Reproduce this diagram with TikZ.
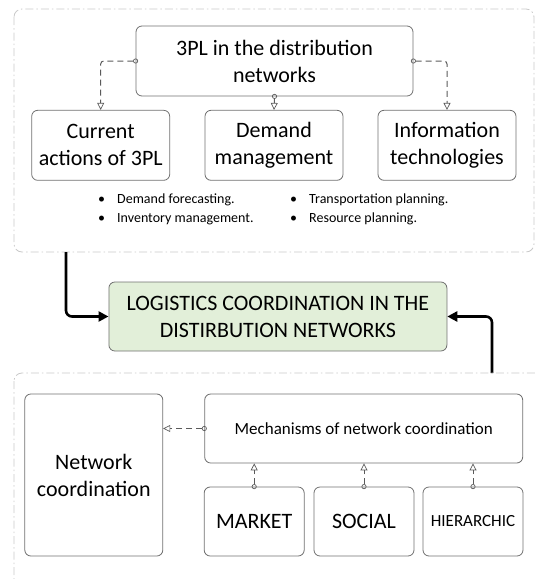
\documentclass[tikz,border=0pt]{standalone}
\usepackage{fontspec}
\setmainfont{Carlito}
\usetikzlibrary{arrows.meta}

\definecolor{boxgray}{RGB}{112,112,112}
\definecolor{linkgray}{RGB}{90,90,90}
\definecolor{framegray}{RGB}{200,200,200}
\definecolor{palegreen}{RGB}{226,239,217}

\newcommand{\blt}{\makebox[19pt][l]{\textbullet}}

\begin{document}
\begin{tikzpicture}[
    x=1pt, y=-1pt,
    box/.style={draw=boxgray, line width=0.8pt, rounded corners=6pt, align=center, inner sep=0pt},
    big/.style={font=\fontsize{22}{27}\selectfont},
    mid/.style={font=\fontsize{17}{21}\selectfont},
    small/.style={font=\fontsize{14}{19}\selectfont, anchor=west, inner sep=0pt},
    frame/.style={draw=framegray, line width=0.8pt, rounded corners=8pt,
        dash pattern=on 8pt off 3pt on 1.5pt off 3pt},
    link/.style={draw=linkgray, line width=1pt, dash pattern=on 6pt off 4pt, rounded corners=3pt,
        shorten <=-2.5pt,
        {Circle[open,length=5pt,width=5pt,line width=0.7pt]}-{Triangle[open,length=7pt,width=7pt,line width=0.7pt]}},
    flow/.style={draw=black, line width=2.6pt, rounded corners=6pt, -{Triangle[length=10pt,width=10pt]}}
]
\clip (0,0) rectangle (536,579);

% Upper group
\draw[frame] (14,9) rectangle (534,252);

\node[box, big, minimum width=277pt, minimum height=70pt] (tpl) at (274.5,61) {3PL in the distribution\\networks};
\node[box, big, minimum width=138pt, minimum height=70pt] (cur) at (100.7,145.3) {Current\\actions of 3PL};
\node[box, big, minimum width=138pt, minimum height=70pt] (dem) at (274,145.3) {Demand\\management};
\node[box, big, minimum width=138pt, minimum height=70pt] (info) at (447,145.3) {Information\\technologies};

\draw[link] (tpl.west) -| (cur.north);
\draw[link] (tpl.south) -- (dem.north);
\draw[link] (tpl.east) -| (info.north);

% Demand management items
\node[small] (fc) at (98,200) {\blt Demand forecasting.};
\node[small] (im) at (98,219) {\blt Inventory management.};
\node[small] (tp) at (290,200) {\blt Transportation planning.};
\node[small] (rp) at (290,219) {\blt Resource planning.};

% Central block
\node[box, big, fill=palegreen, minimum width=338pt, minimum height=69pt] (logi) at (277.9,316.5)
    {LOGISTICS COORDINATION IN THE\\DISTIRBUTION NETWORKS};

\coordinate (up) at (66,252);
\coordinate (down) at (492,373);
\draw[flow] (up) |- (logi.west);
\draw[flow] (down) |- (logi.east);

% Lower group
\draw[frame] (14,373) rectangle (550,595);

\node[box, big, minimum width=138pt, minimum height=162pt] (netw) at (93.8,475) {Network\\coordination};
\node[box, mid, minimum width=318pt, minimum height=69pt] (mech) at (363.7,428.5) {Mechanisms of network coordination};
\node[box, big, minimum width=100pt, minimum height=69pt] (mkt) at (254.2,521.5) {MARKET};
\node[box, big, minimum width=100pt, minimum height=69pt] (soc) at (364,521.5) {SOCIAL};
\node[box, mid, minimum width=100pt, minimum height=69pt] (hier) at (473,521.5) {HIERARCHIC};

\draw[link] (mech.west) -- (mech.west -| netw.east);
\draw[link] (mkt.north) -- (mkt.north |- mech.south);
\draw[link] (soc.north) -- (soc.north |- mech.south);
\draw[link] (hier.north) -- (hier.north |- mech.south);

\end{tikzpicture}
\end{document}
